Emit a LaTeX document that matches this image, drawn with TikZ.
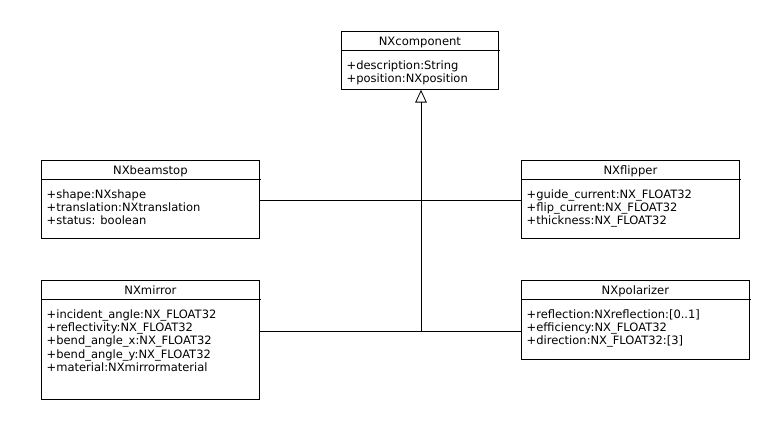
\documentclass[tikz,border=0pt]{standalone}
\usepackage{fontspec}
\setmainfont{DejaVu Sans}
\usetikzlibrary{arrows.meta}
\tikzset{
  x=1pt, y=-1pt,
  umlline/.style={line width=0.8pt, black},
  classbox/.style={draw, line width=0.8pt, inner sep=0pt, fill=white},
  hdr/.style={inner sep=0pt, anchor=base, font=\fontsize{11.6}{13.3}\selectfont},
  attr/.style={inner sep=0pt, anchor=base west, font=\fontsize{11.5}{13.3}\selectfont},
}
\newcommand\umlclass[7]{%
  \node[classbox, minimum width=#4pt, minimum height=#5pt, anchor=north west] (#1) at (#2,#3) {};
  \draw[umlline] ([yshift=-19.5pt]#1.north west) -- ++(#4+2,0);
  \node[hdr] (#1-t) at ([yshift=-14.5pt]#1.north) {#6};
  \foreach \a [count=\i] in {#7}
    \node[attr] (#1-\i) at ([xshift=5.5pt, yshift={-25pt-13.3pt*\i}]#1.north west) {\a};
}
\begin{document}
\begin{tikzpicture}
\useasboundingbox[fill=white] (0,0) rectangle (770,420);
\umlclass{comp}{341}{31}{157}{58}{NXcomponent}{+description:String,+position:NXposition}
\umlclass{beam}{41}{160}{218}{78}{NXbeamstop}{+shape:NXshape,+translation:NXtranslation,+status: boolean}
\umlclass{flip}{521}{160}{218}{78}{NXflipper}{+guide\_current:NX\_FLOAT32,+flip\_current:NX\_FLOAT32,+thickness:NX\_FLOAT32}
\umlclass{mirr}{41}{280}{218}{119}{NXmirror}{+incident\_angle:NX\_FLOAT32,+reflectivity:NX\_FLOAT32,+bend\_angle\_x:NX\_FLOAT32,+bend\_angle\_y:NX\_FLOAT32,+material:NXmirrormaterial}
\umlclass{pola}{521}{280}{228}{79}{NXpolarizer}{+reflection:NXreflection:[0..1],+efficiency:NX\_FLOAT32,+direction:NX\_FLOAT32:[3]}
\coordinate (j1) at (421,200.5);
\coordinate (j2) at (421,331);
\draw[umlline, -{Triangle[open, length=12.7pt, width=11.5pt, line width=0.8pt]}] (j2) -- (comp.south -| j2);
\draw[umlline] (beam.east |- j1) -- (flip.west |- j1);
\draw[umlline] (mirr.east |- j2) -- (pola.west |- j2);
\end{tikzpicture}
\end{document}
